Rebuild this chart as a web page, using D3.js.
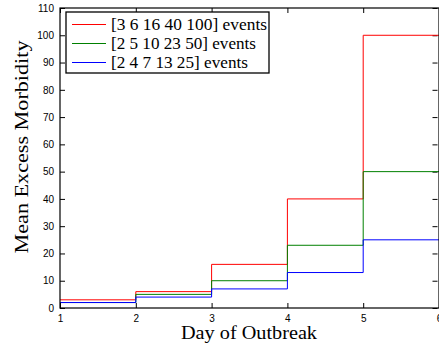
<!DOCTYPE html>
<html>
<head>
<meta charset="utf-8">
<script src="https://cdn.jsdelivr.net/npm/d3@7/dist/d3.min.js"></script>
<style>
  html, body { margin: 0; padding: 0; background: #fff; }
  svg { display: block; }
  .tick text { font-family: "Liberation Sans", Arial, sans-serif; font-size: 10px; fill: #000; }
</style>
</head>
<body>
<svg id="chart" width="439" height="348"></svg>
<script>
// Outbreak days and mean excess morbidity per scenario
const days = [1, 2, 3, 4, 5];
const seriesRed = [3, 6, 16, 40, 100];
const seriesGreen = [2, 5, 10, 23, 50];
const seriesBlue = [2, 4, 7, 13, 25];
const seriesLabels = ["[3 6 16 40 100] events", "[2 5 10 23 50] events", "[2 4 7 13 25] events"];
const seriesColors = ["#ff0000", "#008000", "#0000ff"];
const xTicks = [1, 2, 3, 4, 5, 6];
const yTicks = [0, 10, 20, 30, 40, 50, 60, 70, 80, 90, 100, 110];

const series = [seriesRed, seriesGreen, seriesBlue];

const margin = { left: 60, top: 8, right: 0, bottom: 40 };
const svg = d3.select("#chart");
const serif = "'Liberation Serif', 'Times New Roman', serif";

const x = d3.scaleLinear().domain([1, 6]).range([margin.left, 439]);
const y = d3.scaleLinear().domain([0, 110]).range([308, margin.top]);

const plot = svg.append("g");

// Axes with inward ticks on all four sides
const tickLen = 5;
plot.append("g").attr("transform", `translate(0,${y(0)})`)
  .call(d3.axisBottom(x).tickValues(xTicks).tickFormat(d3.format("d")).tickSizeInner(-tickLen).tickSizeOuter(0).tickPadding(7))
  .call(g => g.select(".domain").remove());
plot.append("g").attr("transform", `translate(${x(1)},0)`)
  .call(d3.axisLeft(y).tickValues(yTicks).tickSizeInner(-tickLen).tickSizeOuter(0).tickPadding(6))
  .call(g => g.select(".domain").remove());
plot.append("g").attr("transform", `translate(0,${y(110)})`)
  .call(d3.axisTop(x).tickValues(xTicks).tickFormat("").tickSizeInner(-tickLen).tickSizeOuter(0))
  .call(g => g.select(".domain").remove());
plot.append("g").attr("transform", `translate(${x(6) - 1.5},0)`)
  .call(d3.axisRight(y).tickValues(yTicks).tickFormat("").tickSizeInner(-tickLen).tickSizeOuter(0))
  .call(g => g.select(".domain").remove());
plot.selectAll(".tick line").attr("stroke", "#000");

// Stair lines: each value holds from its day to the next
const stairs = d3.line()
  .x(d => x(d[0]))
  .y(d => y(d[1]))
  .curve(d3.curveStepAfter);

series.forEach((vals, i) => {
  const pts = days.map((d, j) => [d, vals[j]]);
  pts.push([6, vals[vals.length - 1]]);
  plot.append("path")
    .datum(pts)
    .attr("fill", "none")
    .attr("stroke", seriesColors[i])
    .attr("stroke-width", 1)
    .attr("d", stairs);
});

// Axes box
plot.append("rect")
  .attr("x", x(1)).attr("y", y(110))
  .attr("width", x(6) - x(1)).attr("height", y(0) - y(110))
  .attr("fill", "none").attr("stroke", "#000").attr("stroke-width", 1.2);

// Legend
const legend = svg.append("g");
legend.append("rect")
  .attr("x", 66).attr("y", 12).attr("width", 203).attr("height", 61)
  .attr("fill", "#fff").attr("stroke", "#000").attr("stroke-width", 1.3);
const legendWidths = [156, 145, 137];
seriesLabels.forEach((lab, i) => {
  const ly = 24.5 + i * 19;
  legend.append("line")
    .attr("x1", 72).attr("x2", 106).attr("y1", ly).attr("y2", ly)
    .attr("stroke", seriesColors[i]).attr("stroke-width", 1);
  legend.append("text")
    .attr("x", 111).attr("y", ly + 5)
    .attr("font-family", serif)
    .attr("font-size", 16.5)
    .attr("textLength", legendWidths[i])
    .attr("lengthAdjust", "spacingAndGlyphs")
    .attr("fill", "#000")
    .text(lab);
});

// Axis titles
svg.append("text")
  .attr("x", 249).attr("y", 339)
  .attr("text-anchor", "middle")
  .attr("font-family", serif)
  .attr("font-size", 18)
  .attr("textLength", 136)
  .attr("lengthAdjust", "spacingAndGlyphs")
  .text("Day of Outbreak");
svg.append("text")
  .attr("transform", "translate(28,147) rotate(-90)")
  .attr("text-anchor", "middle")
  .attr("font-family", serif)
  .attr("font-size", 18)
  .attr("textLength", 213)
  .attr("lengthAdjust", "spacingAndGlyphs")
  .text("Mean Excess Morbidity");
</script>
</body>
</html>
